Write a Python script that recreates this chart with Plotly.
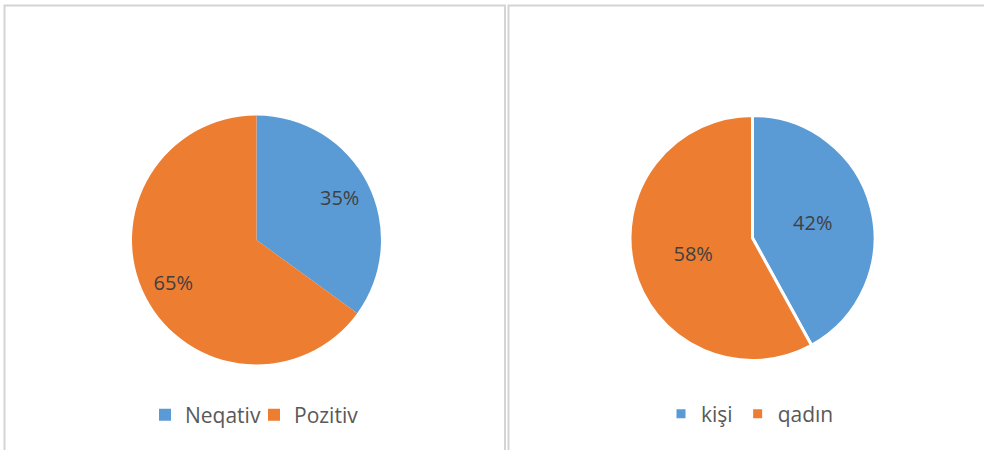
import plotly.graph_objects as go

# Data
left_labels = ["Neqativ", "Pozitiv"]
left_values = [35, 65]
right_labels = ["kişi", "qadın"]
right_values = [42, 58]
colors = ["#5B9BD5", "#ED7D31"]

W, H = 984, 450
FONT = "Open Sans, Lato, sans-serif"

def px(x):
    return x / W

def py(y):
    return 1 - y / H

left_domain = dict(x=[px(132), px(381)], y=[py(365), py(115)])
right_domain = dict(x=[px(630), px(875)], y=[py(361), py(115)])
label_font = dict(size=20, color="#404040", family=FONT)

fig = go.Figure()

# left pie (colours only)
fig.add_trace(go.Pie(
    labels=left_labels, values=left_values, sort=False, direction="clockwise",
    rotation=0, marker=dict(colors=colors, line=dict(color="white", width=0)),
    textinfo="none", domain=left_domain, legend="legend",
    hoverinfo="label+percent",
))
# transparent ring on top to place the percentage labels further out
fig.add_trace(go.Pie(
    labels=left_labels, values=left_values, sort=False, direction="clockwise",
    rotation=0, hole=0.5,
    marker=dict(colors=["rgba(0,0,0,0)", "rgba(0,0,0,0)"], line=dict(width=0)),
    textinfo="percent", textposition="inside", insidetextorientation="horizontal",
    textfont=label_font, domain=left_domain, showlegend=False, hoverinfo="skip",
))

fig.add_trace(go.Pie(
    labels=right_labels, values=right_values, sort=False, direction="clockwise",
    rotation=0, marker=dict(colors=colors, line=dict(color="white", width=3)),
    textinfo="percent", textposition="inside", insidetextorientation="horizontal",
    textfont=label_font, domain=right_domain, legend="legend2",
    hoverinfo="label+percent",
))

legend_font = dict(size=21, color="#595959", family=FONT)

fig.update_layout(
    width=W, height=H,
    margin=dict(l=0, r=0, t=0, b=0),
    paper_bgcolor="white",
    showlegend=True,
    legend=dict(orientation="h", x=px(145), y=py(415), xanchor="left", yanchor="middle",
                font=legend_font, itemclick=False, bgcolor="rgba(0,0,0,0)",
                entrywidth=64),
    legend2=dict(orientation="h", x=px(750), y=py(414), xanchor="center", yanchor="middle",
                 font=legend_font, itemclick=False, bgcolor="rgba(0,0,0,0)"),
    shapes=[
        dict(type="rect", xref="paper", yref="paper",
             x0=px(4.5), x1=px(505), y0=py(460), y1=py(5.5),
             line=dict(color="#d4d4d4", width=2), fillcolor="rgba(0,0,0,0)", layer="below"),
        dict(type="rect", xref="paper", yref="paper",
             x0=px(508.5), x1=px(1000), y0=py(460), y1=py(5.5),
             line=dict(color="#d4d4d4", width=2), fillcolor="rgba(0,0,0,0)", layer="below"),
    ],
)

fig.write_html("out.html")
